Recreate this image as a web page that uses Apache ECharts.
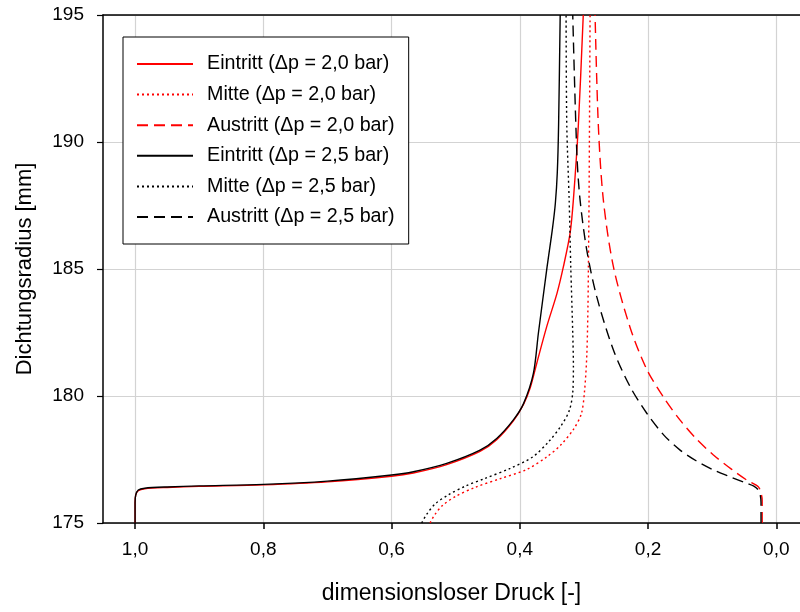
<!DOCTYPE html>
<html>
<head>
<meta charset="utf-8">
<script src="https://cdn.jsdelivr.net/npm/echarts@6/dist/echarts.min.js"></script>
<style>
  html, body { margin: 0; padding: 0; background: #fff; }
  #chart { width: 800px; height: 612px; }
</style>
</head>
<body>
<div id="chart"></div>
<script>
// Dimensionless pressure [-] vs. seal radius [mm], pairs of [pressure, radius]
const eintritt20 = [[1.000,175.0],[1.000,175.8],[0.999,176.1],[0.995,176.27],[0.985,176.35],[0.95,176.4],[0.9,176.44],[0.8,176.5],[0.7,176.62],[0.6,176.84],[0.566,176.97],[0.514,177.3],[0.462,177.82],[0.436,178.28],[0.41,179.02],[0.394,179.68],[0.384,180.3],[0.3735,181.29],[0.358,182.73],[0.342,184.04],[0.332,185.09],[0.3216,186.4],[0.3165,187.7],[0.3087,190.65],[0.301,195.0]];
const mitte20 = [[0.54,175.0],[0.532,175.35],[0.52,175.7],[0.5,176.05],[0.47,176.4],[0.43,176.75],[0.39,177.1],[0.358,177.6],[0.335,178.1],[0.316,178.7],[0.304,179.3],[0.299,180.2],[0.2955,181.6],[0.2937,183.5],[0.293,185.09],[0.292,187.7],[0.2904,195.0]];
const austritt20 = [[0.022,175.0],[0.022,175.9],[0.024,176.2],[0.028,176.43],[0.046,176.69],[0.07,177.12],[0.098,177.68],[0.125,178.32],[0.150,179.05],[0.175,179.92],[0.202,181.05],[0.228,182.7],[0.254,185.09],[0.2697,187.72],[0.2775,190.65],[0.2826,195.0]];
const eintritt25 = [[1.000,175.0],[1.000,175.8],[0.999,176.1],[0.995,176.3],[0.985,176.37],[0.95,176.42],[0.9,176.46],[0.8,176.52],[0.7,176.65],[0.6,176.89],[0.566,177.02],[0.514,177.35],[0.462,177.87],[0.436,178.33],[0.41,179.06],[0.394,179.71],[0.3788,180.89],[0.371,182.47],[0.3574,185.09],[0.349,186.6],[0.3445,187.6],[0.3415,188.8],[0.3395,190.65],[0.337,195.0]];
const mitte25 = [[0.553,175.0],[0.545,175.35],[0.532,175.75],[0.512,176.1],[0.485,176.45],[0.455,176.75],[0.415,177.15],[0.38,177.6],[0.355,178.2],[0.335,178.85],[0.3225,179.45],[0.3172,180.2],[0.3164,181.2],[0.3174,182.47],[0.3205,185.09],[0.323,187.7],[0.3267,190.65],[0.3278,195.0]];
const austritt25 = [[0.0238,175.0],[0.0238,175.8],[0.025,176.1],[0.028,176.3],[0.035,176.45],[0.046,176.56],[0.07,176.8],[0.098,177.09],[0.125,177.45],[0.150,177.87],[0.175,178.45],[0.202,179.32],[0.228,180.37],[0.254,181.81],[0.28,183.91],[0.2956,185.75],[0.306,187.72],[0.311,189.53],[0.3174,195.0]];

const xTicks = [0.0, 0.2, 0.4, 0.6, 0.8, 1.0];
const seriesNames = [
  'Eintritt (\u0394p = 2,0 bar)',
  'Mitte (\u0394p = 2,0 bar)',
  'Austritt (\u0394p = 2,0 bar)',
  'Eintritt (\u0394p = 2,5 bar)',
  'Mitte (\u0394p = 2,5 bar)',
  'Austritt (\u0394p = 2,5 bar)'
];

const FONT = 'Liberation Sans, Arial, sans-serif';
const chart = echarts.init(document.getElementById('chart'), null, { renderer: 'canvas' });

function curve(name, data, color, type) {
  return {
    name: name,
    type: 'line',
    data: data,
    symbol: 'none',
    smooth: 0.3,
    animation: false,
    lineStyle: { color: color, width: 1.4, type: type },
    itemStyle: { color: color }
  };
}

const dotted = [2, 3];
const dashed = [11, 6];

chart.setOption({
  animation: false,
  backgroundColor: '#fff',
  grid: { left: 103, right: 0, top: 15, bottom: 89 },
  legend: {
    orient: 'vertical',
    left: 123,
    top: 37,
    padding: [17, 14, 17, 13],
    backgroundColor: '#fff',
    borderColor: '#000',
    borderWidth: 1,
    itemWidth: 56,
    itemHeight: 14,
    itemGap: 10.6,
    itemStyle: { color: 'rgba(0,0,0,0)', borderColor: 'rgba(0,0,0,0)', borderWidth: 0 },
    textStyle: { fontFamily: FONT, fontSize: 19.7, color: '#000', lineHeight: 20, padding: [0, 0, 0, 9] },
    data: seriesNames
  },
  xAxis: [{
    type: 'value',
    inverse: true,
    min: -0.037,
    max: 1.05,
    name: 'dimensionsloser Druck [-]',
    nameLocation: 'middle',
    nameGap: 59,
    nameTextStyle: { fontFamily: FONT, fontSize: 23, color: '#000' },
    axisLine: { show: true, onZero: false, lineStyle: { color: '#000', width: 1.5 } },
    axisTick: { show: true, inside: false, length: 6, customValues: xTicks, lineStyle: { color: '#000', width: 1.5 } },
    axisLabel: {
      customValues: xTicks,
      margin: 17,
      fontFamily: FONT, fontSize: 19, color: '#000',
      formatter: v => v.toFixed(1).replace('.', ',')
    },
    splitLine: { show: true, lineStyle: { color: '#d3d3d3', width: 1.2 } }
  }, {
    type: 'value',
    position: 'top',
    min: 0, max: 1,
    axisLine: { show: true, onZero: false, lineStyle: { color: '#000', width: 1.5 } },
    axisTick: { show: false },
    axisLabel: { show: false },
    splitLine: { show: false }
  }],
  yAxis: {
    type: 'value',
    min: 175,
    max: 195,
    interval: 5,
    name: 'Dichtungsradius [mm]',
    nameLocation: 'middle',
    nameGap: 67,
    nameTextStyle: { fontFamily: FONT, fontSize: 22, color: '#000' },
    axisLine: { show: true, onZero: false, lineStyle: { color: '#000', width: 1.5 } },
    axisTick: { show: true, inside: false, length: 6, lineStyle: { color: '#000', width: 1.2 } },
    axisLabel: { margin: 19, fontFamily: FONT, fontSize: 19, color: '#000' },
    splitLine: { show: true, lineStyle: { color: '#d3d3d3', width: 1.2 } }
  },
  series: [
    curve(seriesNames[0], eintritt20, '#ff0000', 'solid'),
    curve(seriesNames[1], mitte20, '#ff0000', dotted),
    curve(seriesNames[2], austritt20, '#ff0000', dashed),
    curve(seriesNames[3], eintritt25, '#000000', 'solid'),
    curve(seriesNames[4], mitte25, '#000000', dotted),
    curve(seriesNames[5], austritt25, '#000000', dashed)
  ]
});
</script>
</body>
</html>
